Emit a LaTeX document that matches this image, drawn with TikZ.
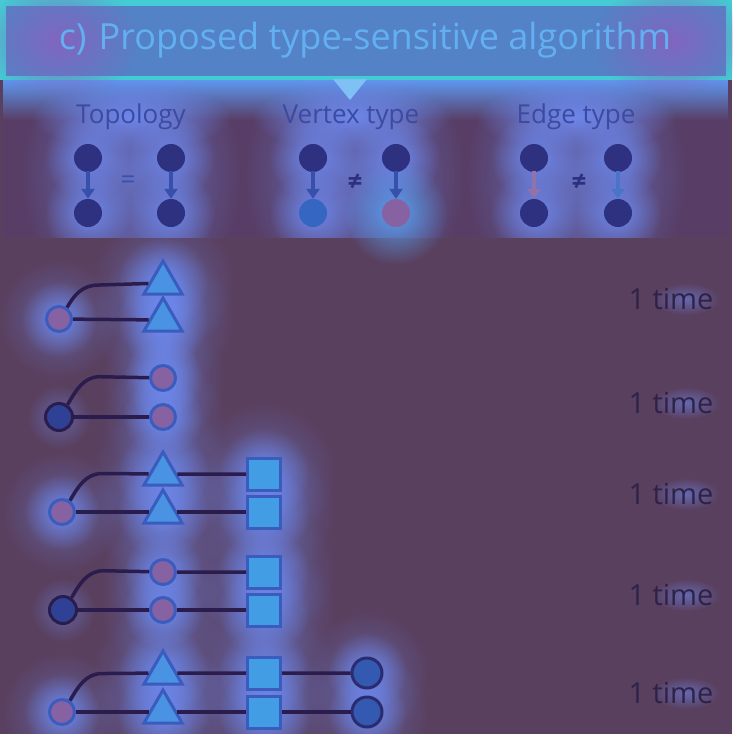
\documentclass[tikz,border=0pt]{standalone}
\usepackage{fontspec}
\setmainfont{Open Sans}
\usetikzlibrary{arrows.meta,shapes.geometric,fadings}

\definecolor{bgpurple}{HTML}{5A405F}
\definecolor{bandpurple}{HTML}{583E66}
\definecolor{glowblue}{HTML}{6E8CF4}
\definecolor{teal}{HTML}{44CCD4}
\definecolor{boxblue}{HTML}{5482C6}
\definecolor{titleblue}{HTML}{62B0F2}
\definecolor{headtext}{HTML}{3C4AA0}
\definecolor{navy}{HTML}{2D3180}
\definecolor{arrowblue}{HTML}{3650AC}
\definecolor{midblue}{HTML}{3566C2}
\definecolor{pinkish}{HTML}{8762A2}
\definecolor{linkdark}{HTML}{2A1D4E}
\definecolor{rimblue}{HTML}{3A5CBE}
\definecolor{triblue}{HTML}{4A92E2}
\definecolor{countdark}{HTML}{2F2249}

\tikzfading[name=glowfade, inner color=transparent!10, outer color=transparent!100]
\pgfdeclarelayer{bg}
\pgfdeclarelayer{halo}
\pgfsetlayers{bg,halo,main}

\begin{document}
\begin{tikzpicture}[x=1pt, y=1pt,
  glow/.style={fill=glowblue, path fading=glowfade},
  haze/.style={fill=glowblue, path fading=glowfade, opacity=0.45},
  hdot/.style={circle, fill=navy, minimum size=28pt, inner sep=0pt},
  harrow/.style={-{Triangle[length=10pt,width=13pt]}, line width=3.5pt, arrowblue, shorten <=-1pt},
  link/.style={line width=3.5pt, linkdark},
  ring/.style={circle, draw=rimblue, line width=3pt, fill=pinkish, minimum size=25pt, inner sep=0pt},
  darkdot/.style={circle, draw=linkdark, line width=3pt, fill=navy!70!midblue, minimum size=27pt, inner sep=0pt},
  tri/.style={regular polygon, regular polygon sides=3, draw=rimblue, line width=3pt, fill=triblue, minimum size=44pt, inner sep=0pt},
  sq/.style={rectangle, draw=rimblue, line width=3pt, fill=triblue!90!cyan, minimum width=33pt, minimum height=32pt, inner sep=0pt},
  head/.style={font=\fontsize{26}{30}\selectfont, text=headtext},
  rel/.style={font=\fontsize{26}{26}\selectfont, text=arrowblue},
  count/.style={font=\fontsize{29}{32}\selectfont, text=countdark}]

\useasboundingbox (0,0) rectangle (732,-734);

% title
\fill[teal] (0,0) rectangle (732,-80);
\fill[boxblue] (6,-6) rectangle (726,-76);
\fill[glowblue!70!purple, path fading=glowfade] (60,-41) ellipse (80 and 60);
\fill[glowblue!70!purple, path fading=glowfade] (672,-41) ellipse (80 and 60);
\fill[titleblue!80!white] (333,-79) -- (367,-79) -- (350,-100) -- cycle;
\node[font=\fontsize{36}{40}\selectfont, text=titleblue] (title) at (365,-40) {c)\hspace{12pt}Proposed type-sensitive algorithm};

% header pairs
\node[head] (topo) at (131,-117) {Topology};
\node[head] (vert) at (351,-117) {Vertex type};
\node[head] (edge) at (576,-117) {Edge type};

\node[hdot] (a1) at (88,-158) {};
\node[hdot] (a2) at (88,-213) {};
\node[hdot] (b1) at (171,-158) {};
\node[hdot] (b2) at (171,-213) {};
\node[rel] (eq) at (128,-182) {=};
\draw[harrow] (a1) -- (a2);
\draw[harrow] (b1) -- (b2);

\node[hdot] (c1) at (313,-158) {};
\node[hdot, fill=midblue] (c2) at (313,-213) {};
\node[hdot] (d1) at (396,-158) {};
\node[hdot, fill=pinkish] (d2) at (396,-213) {};
\node[rel, text=navy, font=\bfseries\fontsize{26}{26}\selectfont] (ne1) at (355,-182) {≠};
\draw[harrow] (c1) -- (c2);
\draw[harrow] (d1) -- (d2);

\node[hdot] (e1) at (534,-158) {};
\node[hdot] (e2) at (534,-213) {};
\node[hdot] (f1) at (618,-158) {};
\node[hdot] (f2) at (618,-213) {};
\node[rel, text=navy, font=\bfseries\fontsize{26}{26}\selectfont] (ne2) at (579,-182) {≠};
\draw[harrow, pinkish!90!white] (e1) -- (e2);
\draw[harrow, midblue!90!white] (f1) -- (f2);

% subgraph 1
\node[ring] (r1) at (59,-319) {};
\node[tri] (t11) at (163,-283) {};
\node[tri] (t12) at (163,-320) {};
\draw[link] (r1.55) .. controls +(8,14) and +(-16,0) .. ++(32,22.5) -- (t11);
\draw[link] (r1) -- (t12);

% subgraph 2
\node[darkdot] (r2) at (59,-417) {};
\node[ring] (p21) at (163,-378) {};
\node[ring] (p22) at (163,-417) {};
\draw[link] (r2.55) .. controls +(8,14) and +(-16,0) .. ++(32,28) -- (p21);
\draw[link] (r2) -- (p22);

% subgraph 3
\node[ring] (r3) at (62,-512) {};
\node[tri] (t31) at (163,-474) {};
\node[tri] (t32) at (163,-512) {};
\node[sq] (s31) at (264,-474) {};
\node[sq] (s32) at (264,-512) {};
\draw[link] (r3.55) .. controls +(8,14) and +(-16,0) .. ++(32,27) -- (t31) -- (s31);
\draw[link] (r3) -- (t32) -- (s32);

% subgraph 4
\node[darkdot] (r4) at (63,-610) {};
\node[ring] (p41) at (163,-572) {};
\node[ring] (p42) at (163,-610) {};
\node[sq] (s41) at (264,-572) {};
\node[sq] (s42) at (264,-610) {};
\draw[link] (r4.55) .. controls +(8,14) and +(-16,0) .. ++(32,27) -- (p41) -- (s41);
\draw[link] (r4) -- (p42) -- (s42);

% subgraph 5
\node[ring] (r5) at (62,-712) {};
\node[tri] (t51) at (163,-673) {};
\node[tri] (t52) at (163,-712) {};
\node[sq] (s51) at (264,-673) {};
\node[sq] (s52) at (264,-712) {};
\node[darkdot, fill=midblue!75!navy, draw=navy!70!linkdark, minimum size=30pt] (n51) at (367,-673) {};
\node[darkdot, fill=midblue!75!navy, draw=navy!70!linkdark, minimum size=30pt] (n52) at (367,-712) {};
\draw[link] (r5.55) .. controls +(8,14) and +(-16,0) .. ++(32,27) -- (t51) -- (s51) -- (n51);
\draw[link] (r5) -- (t52) -- (s52) -- (n52);

% counts
\foreach \y [count=\i] in {299,403,494,595,693} {\node[count] (k\i) at (671,-\y) {1 time};}

% backdrop and glows
\begin{pgfonlayer}{bg}
\fill[bgpurple] (0,0) rectangle (732,-734);
\fill[bandpurple] (3,-78) rectangle (729,-237);
\end{pgfonlayer}
\begin{pgfonlayer}{halo}
\begin{scope}
\clip (3,-78) rectangle (729,-237);
\fill[glowblue!85!cyan, path fading=south] (3,-78) rectangle (729,-120);
\foreach \x in {131,354,576} {\fill[glow, opacity=0.7] (\x,-175) ellipse (110 and 140);}
\foreach \n in {a1,a2,b1,b2,c1,c2,d1,e1,e2,f1,f2} {\fill[glow] (\n) circle (44);}
\foreach \n in {topo,vert,edge} {\fill[glow] (\n) ellipse (100 and 34);}
\end{scope}
\fill[glowblue!80!cyan, path fading=glowfade] (d2) circle (52);
\foreach \n in {r1,r3,r5} {\fill[glow] (\n) circle (38); \fill[haze] (\n) circle (60);}
\foreach \n in {r2,r4} {\fill[glow, opacity=0.5] (\n) circle (32);}
\foreach \n in {t11,t12,t31,t32,t51,t52,s31,s32,s41,s42,s51,s52} {\fill[glow] (\n) circle (46); \fill[haze] (\n) circle (72);}
\foreach \n in {p21,p22,p41,p42,n51,n52} {\fill[glow] (\n) circle (40); \fill[haze] (\n) circle (62);}
\fill[glow, opacity=0.6] (163,-350) ellipse (34 and 110);
\foreach \i in {1,...,5} {\fill[glow, opacity=0.6] ([xshift=15pt]k\i) ellipse (34 and 16);}
\end{pgfonlayer}
\end{tikzpicture}
\end{document}
